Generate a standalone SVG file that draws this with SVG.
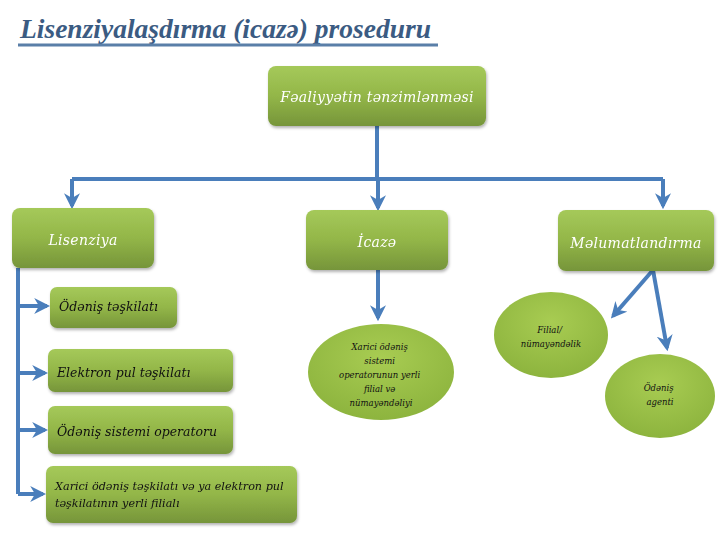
<svg xmlns="http://www.w3.org/2000/svg" width="720" height="540" viewBox="0 0 720 540">
<style>
.t{font-family:'DejaVu Serif','Liberation Serif',serif;font-style:italic}
.w{fill:#ffffff;font-size:14px;letter-spacing:0.3px}
.b{fill:#111111;font-size:12.5px}
.s{fill:#111111;font-size:8.5px}
.c{fill:none;stroke:#4a7ebb;stroke-width:4}
</style>
<defs>
<linearGradient id="g" x1="0" y1="0" x2="0" y2="1">
<stop offset="0" stop-color="#a5c95a"/>
<stop offset="0.5" stop-color="#93b648"/>
<stop offset="1" stop-color="#76953a"/>
</linearGradient>
<radialGradient id="r" cx="0.5" cy="0.35" r="0.65">
<stop offset="0" stop-color="#a8cc52"/>
<stop offset="1" stop-color="#8db43e"/>
</radialGradient>
<filter id="sh" x="-10%" y="-10%" width="130%" height="140%">
<feDropShadow dx="1" dy="2" stdDeviation="1.5" flood-color="#000" flood-opacity="0.3"/>
</filter>
<marker id="a" viewBox="0 0 10 10" refX="8" refY="5" markerWidth="4" markerHeight="4" orient="auto" markerUnits="strokeWidth">
<path d="M0,0 L10,5 L0,10 L3,5 Z" fill="#4a7ebb"/>
</marker>
</defs>
<rect width="720" height="540" fill="#ffffff"/>
<g id="title">
<text x="20" y="38" font-family="Liberation Serif, serif" font-style="italic" font-weight="bold" font-size="27.5" fill="#3b5b82">Lisenziyalaşdırma (icazə) proseduru</text>
<line x1="18" y1="45" x2="438" y2="45" stroke="#5a7fa8" stroke-width="3"/>
</g>
<g id="connectors">
<path class="c" d="M377,126 V179"/>
<path class="c" d="M72,179 H663"/>
<path class="c" d="M72,179 V206" marker-end="url(#a)"/>
<path class="c" d="M378,179 V208" marker-end="url(#a)"/>
<path class="c" d="M663,179 V206" marker-end="url(#a)"/>
<path class="c" d="M18,268 V494"/>
<path class="c" d="M18,306 H47" marker-end="url(#a)"/>
<path class="c" d="M18,373 H45" marker-end="url(#a)"/>
<path class="c" d="M18,430 H45" marker-end="url(#a)"/>
<path class="c" d="M18,494 H43" marker-end="url(#a)"/>
<path class="c" d="M378,270 V318" marker-end="url(#a)"/>
<path class="c" d="M653,270 L613,316" marker-end="url(#a)"/>
<path class="c" d="M653,270 L667,348" marker-end="url(#a)"/>
</g>
<g id="n-top" filter="url(#sh)">
<rect x="268" y="66" width="218" height="60" rx="8" fill="url(#g)"/>
<text x="377" y="102" text-anchor="middle" class="t w">Fəaliyyətin tənzimlənməsi</text>
</g>
<g id="n-lisenziya" filter="url(#sh)">
<rect x="12" y="208" width="142" height="60" rx="8" fill="url(#g)"/>
<text x="83" y="245" text-anchor="middle" class="t w">Lisenziya</text>
</g>
<g id="n-icaze" filter="url(#sh)">
<rect x="306" y="210" width="142" height="60" rx="8" fill="url(#g)"/>
<text x="377" y="247" text-anchor="middle" class="t w">İcazə</text>
</g>
<g id="n-melumat" filter="url(#sh)">
<rect x="558" y="210" width="156" height="61" rx="8" fill="url(#g)"/>
<text x="636" y="248" text-anchor="middle" class="t w">Məlumatlandırma</text>
</g>
<g id="n-odenis-teskilati" filter="url(#sh)">
<rect x="50" y="287" width="127" height="41" rx="7" fill="url(#g)"/>
<text x="59" y="311" class="t b">Ödəniş təşkilatı</text>
</g>
<g id="n-elektron" filter="url(#sh)">
<rect x="48" y="349" width="185" height="43" rx="7" fill="url(#g)"/>
<text x="57" y="377" class="t b">Elektron pul təşkilatı</text>
</g>
<g id="n-operator" filter="url(#sh)">
<rect x="48" y="406" width="185" height="48" rx="7" fill="url(#g)"/>
<text x="57" y="436" class="t b">Ödəniş sistemi operatoru</text>
</g>
<g id="n-xarici" filter="url(#sh)">
<rect x="46" y="466" width="251" height="57" rx="7" fill="url(#g)"/>
<text x="55" y="490" class="t" font-size="11.2" fill="#111">Xarici ödəniş təşkilatı və ya elektron pul</text>
<text x="55" y="507" class="t" font-size="11.2" fill="#111">təşkilatının yerli filialı</text>
</g>
<g id="n-xarici-operator">
<ellipse cx="381" cy="372" rx="73" ry="48" fill="url(#r)"/>
<text text-anchor="middle" class="t s">
<tspan x="381" y="350">Xarici ödəniş</tspan>
<tspan x="381" y="364">sistemi</tspan>
<tspan x="381" y="378">operatorunun yerli</tspan>
<tspan x="381" y="392">filial və</tspan>
<tspan x="381" y="406">nümayəndəliyi</tspan>
</text>
</g>
<g id="n-filial">
<ellipse cx="551" cy="335" rx="57" ry="43" fill="url(#r)"/>
<text text-anchor="middle" class="t s">
<tspan x="551" y="333">Filial/</tspan>
<tspan x="551" y="347">nümayəndəlik</tspan>
</text>
</g>
<g id="n-agent">
<ellipse cx="660" cy="396" rx="55" ry="42" fill="url(#r)"/>
<text text-anchor="middle" class="t s">
<tspan x="660" y="391">Ödəniş</tspan>
<tspan x="660" y="405">agenti</tspan>
</text>
</g>
</svg>
